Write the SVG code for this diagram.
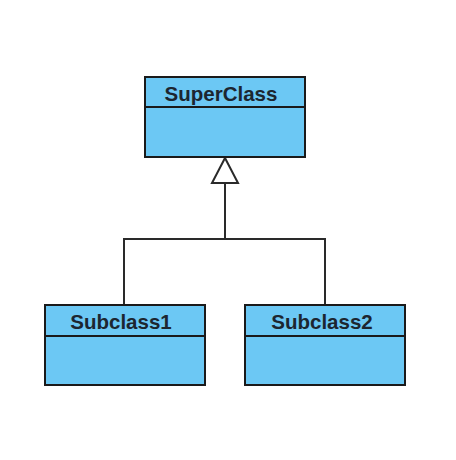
<svg xmlns="http://www.w3.org/2000/svg" width="456" height="460" viewBox="0 0 456 460">
<defs>
<style>
.box{fill:#6CC8F4;stroke:#1a1a1a;stroke-width:2}
.div{stroke:#1a1a1a;stroke-width:2}
.lbl{font-family:"Liberation Sans",Arial,sans-serif;font-weight:bold;font-size:20.5px;fill:#1c2630;text-anchor:middle}
.conn{fill:none;stroke:#2a2a2a;stroke-width:2}
</style>
</defs>
<rect width="456" height="460" fill="#ffffff"/>
<g id="connectors">
<polyline class="conn" points="124,305 124,239 325,239 325,305"/>
<line class="conn" x1="225" y1="239" x2="225" y2="183"/>
<polygon points="225,158 212,183 238,183" fill="#ffffff" stroke="#2a2a2a" stroke-width="2"/>
</g>
<g id="SuperClass">
<rect class="box" x="145" y="77" width="160" height="80"/>
<line class="div" x1="145" y1="107" x2="305" y2="107"/>
<text class="lbl" x="221" y="100.5">SuperClass</text>
</g>
<g id="Subclass1">
<rect class="box" x="45" y="305" width="160" height="80"/>
<line class="div" x1="45" y1="336" x2="205" y2="336"/>
<text class="lbl" x="121" y="328.5">Subclass1</text>
</g>
<g id="Subclass2">
<rect class="box" x="245" y="305" width="160" height="80"/>
<line class="div" x1="245" y1="336" x2="405" y2="336"/>
<text class="lbl" x="322" y="328.5">Subclass2</text>
</g>
</svg>
